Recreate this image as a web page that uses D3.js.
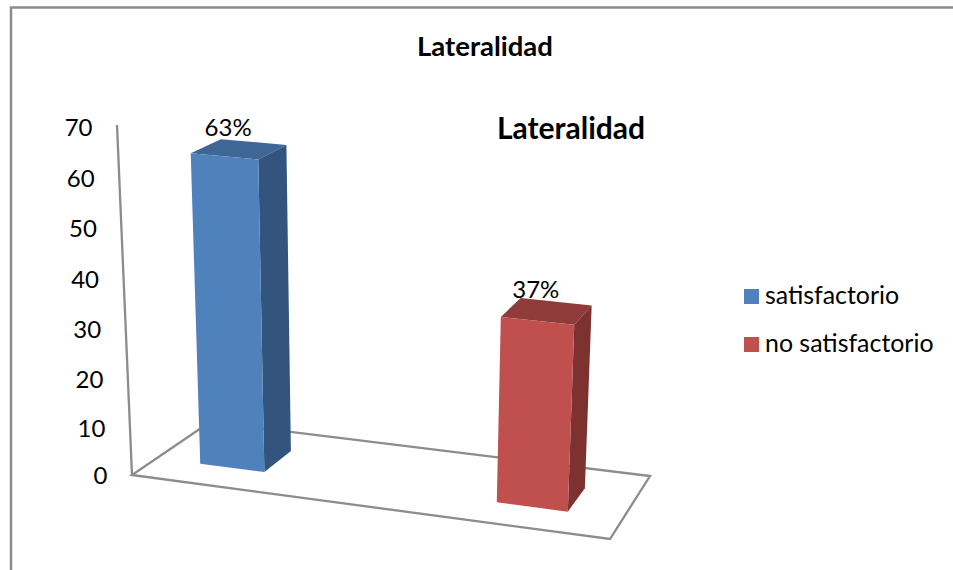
<!DOCTYPE html>
<html><head><meta charset="utf-8">
<script src="https://cdn.jsdelivr.net/npm/d3@7"></script>
<style>html,body{margin:0;padding:0;background:#fff}svg{display:block}text{font-family:Lato,"Open Sans",sans-serif;fill:#000}</style>
</head><body><svg id="c" width="953" height="570"></svg>
<script>
const chartTitle = "Lateralidad";
const categories = ["satisfactorio", "no satisfactorio"];
const values = [63, 37];
const valueLabels = ["63%", "37%"];
const tickValues = [0, 10, 20, 30, 40, 50, 60, 70];
const frontColors = ["#4f81bd", "#c0504d"];
const sideColors = ["#32547d", "#7d3230"];
const topColors = ["#3f6796", "#8f3b39"];

const svg = d3.select("#c");
const GREY = "#8c8c8c";

// Frame
svg.append("path").attr("d", "M11,570V7.5H953").attr("fill", "none").attr("stroke", GREY).attr("stroke-width", 2.5);

// Floor homography (unit square to pixel quad)
const A=[132,475],B=[610,539],C=[650,476],D=[210,422];
const dx1=B[0]-C[0],dx2=D[0]-C[0],sx=A[0]-B[0]+C[0]-D[0];
const dy1=B[1]-C[1],dy2=D[1]-C[1],sy=A[1]-B[1]+C[1]-D[1];
const den=dx1*dy2-dx2*dy1;
const g=(sx*dy2-dx2*sy)/den,h=(dx1*sy-sx*dy1)/den;
const a=B[0]-A[0]+g*B[0],b=D[0]-A[0]+h*D[0],c0=A[0];
const d=B[1]-A[1]+g*B[1],e=D[1]-A[1]+h*D[1],f=A[1];
const VP=[374.7,6138];
// Perspective makes the value axis slightly non-linear
const heightScale=d3.scalePow().exponent(1.025).domain([0,70]).range([0,350]);
function project(u,v,val){
  const w=1+g*u+h*v;
  const x=(a*u+b*v+c0)/w,y=(d*u+e*v+f)/w;
  const t=heightScale(val)*Math.pow(w,-0.6)/(VP[1]-y);
  return [x+(x-VP[0])*t,y+(y-VP[1])*t];
}
const line=pts=>"M"+pts.map(p=>p[0].toFixed(2)+","+p[1].toFixed(2)).join("L")+"Z";

const uScale=d3.scaleBand().domain(categories).range([0.1,0.89]).paddingInner(0.775).paddingOuter(0);
const vScale=d3.scaleLinear().domain([0,1]).range([0.3,0.68]);

// Floor and wall
svg.append("path").attr("d",line([[0,0],[1,0],[1,1],[0,1]].map(p=>project(p[0],p[1],0))))
  .attr("fill","#fff").attr("stroke",GREY).attr("stroke-width",2.3).attr("stroke-linejoin","miter");
svg.append("path").attr("d","M"+project(0,0,0).join(",")+"L"+project(0,0,70).join(","))
  .attr("fill","none").attr("stroke",GREY).attr("stroke-width",2.3);

// Value axis labels following the slanted wall
const yLabel=d3.scalePow().exponent(1.025).domain([0,70]).range([476,127.5]);
const axis=svg.append("g").attr("class","axis").call(d3.axisLeft(yLabel).tickValues(tickValues).tickSize(0).tickPadding(0));
axis.select(".domain").remove();
axis.selectAll("text").attr("font-size",24).attr("font-family","Lato")
  .attr("x",t=>project(0,0,t)[0]-24.5);

// Bars
categories.forEach((cat,i)=>{
  const u0=uScale(cat),u1=u0+uScale.bandwidth(),v0=vScale(0),v1=vScale(1),val=values[i];
  const g1=svg.append("g");
  g1.append("path").attr("fill",topColors[i]).attr("d",line([project(u0,v0,val),project(u1,v0,val),project(u1,v1,val),project(u0,v1,val)]));
  g1.append("path").attr("fill",sideColors[i]).attr("d",line([project(u1,v0,0),project(u1,v1,0),project(u1,v1,val),project(u1,v0,val)]));
  g1.append("path").attr("fill",frontColors[i]).attr("d",line([project(u0,v0,0),project(u1,v0,0),project(u1,v0,val),project(u0,v0,val)]));
  const top=project((u0+u1)/2,(v0+v1)/2,val);
  svg.append("text").attr("x",top[0]-11).attr("y",top[1]-13.5).attr("text-anchor","middle").attr("font-size",24).text(valueLabels[i]);
});

// Titles
svg.append("text").attr("x",485).attr("y",55.5).attr("text-anchor","middle").attr("font-size",27.5).attr("font-weight",700).text(chartTitle);
svg.append("text").attr("x",571).attr("y",138.5).attr("text-anchor","middle").attr("font-size",30).attr("font-weight",700).text(chartTitle);

// Legend
const legendY=d3.scalePoint().domain(categories).range([289,337]);
categories.forEach((cat,i)=>{
  svg.append("rect").attr("x",744).attr("y",legendY(cat)).attr("width",15).attr("height",15).attr("fill",frontColors[i]);
  svg.append("text").attr("x",765).attr("y",legendY(cat)+15).attr("font-size",24.9).text(cat);
});
</script></body></html>
